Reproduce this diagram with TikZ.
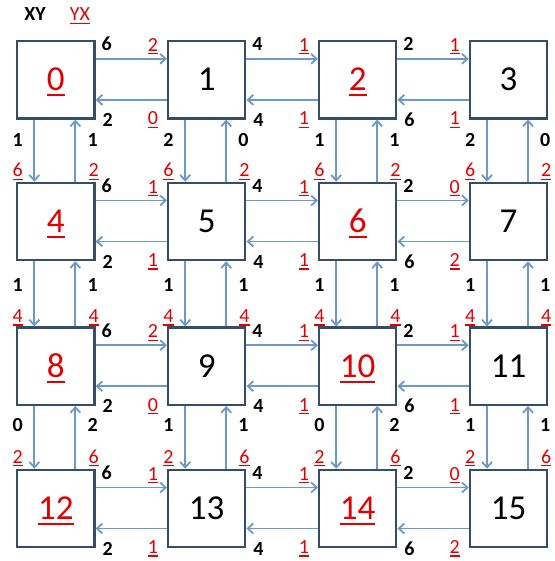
\documentclass[tikz,border=0pt]{standalone}
\usepackage{fontspec}
\setmainfont{Carlito}
\usetikzlibrary{arrows.meta,calc}
\definecolor{labred}{RGB}{228,0,0}
\definecolor{arrblue}{RGB}{108,152,204}
\definecolor{boxedge}{RGB}{52,78,106}
\newsavebox\ulbox
\newcommand\ulsmall[1]{\sbox\ulbox{#1}\rlap{\rule[-3pt]{\wd\ulbox}{1.2pt}}\usebox\ulbox}
\newcommand\ulbig[1]{\sbox\ulbox{#1}\rlap{\rule[-5.6pt]{\wd\ulbox}{2pt}}\usebox\ulbox}
\tikzset{
  cell/.style={draw=boxedge, line width=2.2pt, fill=white, minimum size=77.3pt,
    inner sep=0pt, text height=22pt, text depth=0pt, font=\fontsize{35}{35}\selectfont},
  arr/.style={draw=arrblue, line width=1.8pt, -{Straight Barb[length=5.5pt,width=10pt]}},
  blk/.style={inner sep=0pt, text height=12.6pt, text depth=0pt, anchor=center,
    font=\fontsize{20}{20}\selectfont\bfseries, text=black},
  rdl/.style={inner sep=0pt, text height=12.6pt, text depth=0pt, anchor=center,
    font=\fontsize{20}{20}\selectfont, text=labred}
}
\begin{document}
\begin{tikzpicture}[x=1pt,y=-1pt]
\useasboundingbox (0,0) rectangle (554,561);
% header
\node[blk] (hxy) at (35,14.5) {XY};
\node[rdl] (hyx) at (80,14.5) {\ulsmall{YX}};
% boxes
\foreach \rr in {0,...,3} {
  \foreach \cc in {0,...,3} {
    \pgfmathtruncatemacro\kk{4*\rr+\cc}
    \pgfmathsetmacro\xx{{55.85,206.7,357.7,508.5}[\cc]}
    \pgfmathsetmacro\yy{{79.85,221.5,366.2,508.5}[\rr]}
    \ifodd\kk
      \node[cell] (b\kk) at (\xx,\yy) {\kk};
    \else
      \node[cell,text=labred] (b\kk) at (\xx,\yy) {\ulbig{\kk}};
    \fi
  }
}
% horizontal links
\foreach \rr/\cc/\la/\lb/\lc/\ld in {
  0/0/6/2/2/0, 0/1/4/1/4/1, 0/2/2/1/6/1,
  1/0/6/1/2/1, 1/1/4/1/4/1, 1/2/2/0/6/2,
  2/0/6/2/2/0, 2/1/4/1/4/1, 2/2/2/1/6/1,
  3/0/6/1/2/1, 3/1/4/1/4/1, 3/2/2/0/6/2} {
  \pgfmathtruncatemacro\kk{4*\rr+\cc}
  \pgfmathtruncatemacro\nn{\kk+1}
  \draw[arr] ($(b\kk.east)+(0,-21)$) -- ($(b\nn.west)+(0,-21)$);
  \draw[arr] ($(b\nn.west)+(0,20)$) -- ($(b\kk.east)+(0,20)$);
  \node[blk] (ha\kk) at ($(b\kk.north east)+(11,4.5)$) {\la};
  \node[rdl] (hb\kk) at ($(b\nn.north west)+(-14,5)$) {\ulsmall{\lb}};
  \node[blk] (hc\kk) at ($(b\kk.south east)+(12,0.5)$) {\lc};
  \node[rdl] (hd\kk) at ($(b\nn.south west)+(-14,-1)$) {\ulsmall{\ld}};
}
% vertical links
\foreach \gg/\cc/\la/\lb/\lc/\ld in {
  0/0/1/1/6/2, 0/1/2/0/6/2, 0/2/1/1/6/2, 0/3/2/0/6/2,
  1/0/1/1/4/4, 1/1/1/1/4/4, 1/2/1/1/4/4, 1/3/1/1/4/4,
  2/0/0/2/2/6, 2/1/1/1/2/6, 2/2/0/2/2/6, 2/3/1/1/2/6} {
  \pgfmathtruncatemacro\kk{4*\gg+\cc}
  \pgfmathtruncatemacro\mm{\kk+4}
  \pgfmathsetmacro\ob{{21,23.8,18.8}[\gg]}
  \pgfmathsetmacro\orr{{-11.3,-10.2,-11.8}[\gg]}
  \draw[arr] ($(b\kk.south)+(-21.5,0)$) -- ($(b\mm.north)+(-21.5,0)$);
  \draw[arr] ($(b\mm.north)+(19.5,0)$) -- ($(b\kk.south)+(19.5,0)$);
  \node[blk] (vp\kk) at ($(b\kk.south west)+(1.5,\ob)$) {\la};
  \node[blk] (vq\kk) at ($(b\kk.south east)+(-3,\ob)$) {\lb};
  \node[rdl] (vs\kk) at ($(b\mm.north west)+(1.5,\orr)$) {\ulsmall{\lc}};
  \node[rdl] (vt\kk) at ($(b\mm.north east)+(-2,\orr)$) {\ulsmall{\ld}};
}
\end{tikzpicture}
\end{document}
